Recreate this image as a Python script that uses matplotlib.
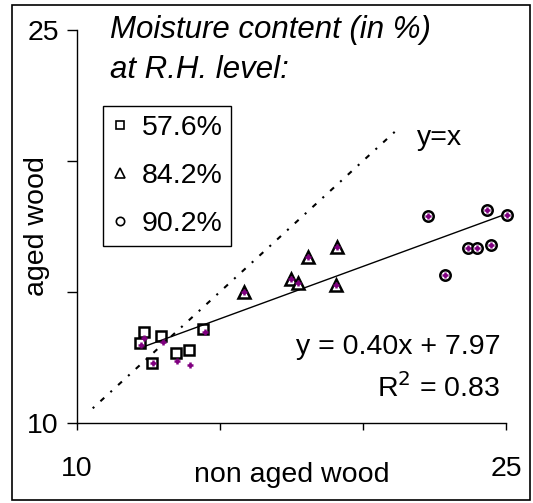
import matplotlib
matplotlib.use("Agg")
import matplotlib.pyplot as plt
from matplotlib.lines import Line2D
from matplotlib.patches import Rectangle

plt.rcParams["font.family"] = ["Liberation Sans", "DejaVu Sans"]
plt.rcParams["font.size"] = 20.5

# moisture content (%) - non aged wood (x) vs aged wood (y)
sq_x = [12.33, 12.20, 12.95, 12.61, 13.45, 13.92, 14.42]
sq_y = [13.48, 13.03, 13.33, 12.28, 12.65, 12.78, 13.56]
tri_x = [15.84, 17.50, 17.73, 18.08, 19.09, 19.06]
tri_y = [15.01, 15.50, 15.33, 16.33, 16.71, 15.27]
circ_x = [22.27, 24.32, 25.02, 23.68, 23.98, 24.47, 22.87]
circ_y = [17.90, 18.14, 17.92, 16.67, 16.67, 16.77, 15.63]

# all points (purple crosses)
all_x = [12.35, 12.23, 13.01, 12.64, 13.49, 13.95, 14.46] + tri_x + circ_x
all_y = [13.25, 12.95, 13.07, 12.27, 12.35, 12.21, 13.46] + tri_y + circ_y

labels = ["57.6%", "84.2%", "90.2%"]
slope, intercept = 0.40, 7.97
r2 = 0.83
diag = [10.55, 21.2]

fig = plt.figure(figsize=(5.33, 5.03), dpi=100)
ax = fig.add_axes([77 / 533, 1 - 422.7 / 503, 429 / 533, 392.7 / 503])

# y = x reference
ax.plot(diag, diag, color="black", lw=1.5, linestyle=(0, (1, 4, 2.5, 4)))

# trend line
tx = [min(all_x), max(all_x)]
ax.plot(tx, [slope * v + intercept for v in tx], color="black", lw=1)

ms = 7.5
ax.plot(sq_x, sq_y, "s", ms=ms, mfc="none", mec="black", mew=1.8, clip_on=False)
ax.plot(tri_x, tri_y, "^", ms=ms + 1, mfc="white", mec="black", mew=1.8, clip_on=False)
ax.plot(circ_x, circ_y, "o", ms=ms, mfc="white", mec="black", mew=1.8, clip_on=False)
ax.plot(all_x, all_y, "+", ms=5, mec="#800080", mew=1.8, clip_on=False, zorder=5)

ax.set_xlim(10, 25)
ax.set_ylim(10, 25)
ax.set_xticks([10, 15, 20, 25])
ax.set_yticks([10, 15, 20, 25])
ax.set_xticklabels(["10", "", "", "25"])
ax.set_yticklabels(["10", "", "", "25"])
ax.tick_params(axis="x", length=5, width=1, pad=19)
ax.tick_params(axis="y", length=7, width=1, pad=6)
for side in ["top", "right"]:
    ax.spines[side].set_visible(False)
ax.spines["left"].set_linewidth(1)
ax.spines["bottom"].set_linewidth(1)

ax.set_xlabel("non aged wood")
ax.set_ylabel("aged wood")
ax.xaxis.set_label_coords(0.5, -0.133)
ax.xaxis.label.set_va("center")
ax.yaxis.set_label_coords(-0.093, 0.5)
ax.yaxis.label.set_va("center")

ax.text(417 / 533, 1 - 138 / 503, "y=x", transform=fig.transFigure, va="center")
ax.text(500 / 533, 1 - 347 / 503, f"y = {slope:.2f}x + {intercept:.2f}",
        transform=fig.transFigure, ha="right", va="center")
ax.text(500 / 533, 1 - 388 / 503, f"R$^2$ = {r2:.2f}", transform=fig.transFigure,
        ha="right", va="center")

fig.text(110 / 533, 1 - 30 / 503, "Moisture content (in %)", style="italic",
         va="center", fontsize=22.5)
fig.text(110 / 533, 1 - 70 / 503, "at R.H. level:", style="italic",
         va="center", fontsize=22.5)

handles = [
    Line2D([], [], ls="none", marker="s", ms=6, mfc="none", mec="black", mew=1.2),
    Line2D([], [], ls="none", marker="^", ms=6.5, mfc="none", mec="black", mew=1.2),
    Line2D([], [], ls="none", marker="o", ms=6, mfc="none", mec="black", mew=1.2),
]
leg = fig.legend(handles, labels, loc="upper left",
                 bbox_to_anchor=(103 / 533, 1 - 106 / 503),
                 frameon=True, fancybox=False, framealpha=1, edgecolor="black",
                 handlelength=0.6, handletextpad=0.45, labelspacing=0.78,
                 borderpad=0.3, borderaxespad=0, fontsize=20.5)
leg.get_frame().set_linewidth(1)

# chart area border
fig.patches.append(Rectangle((12 / 533, 3 / 503), 518 / 533, 495 / 503,
                             transform=fig.transFigure, fill=False,
                             edgecolor="black", lw=1.2))

fig.savefig("out.png", dpi=100)
